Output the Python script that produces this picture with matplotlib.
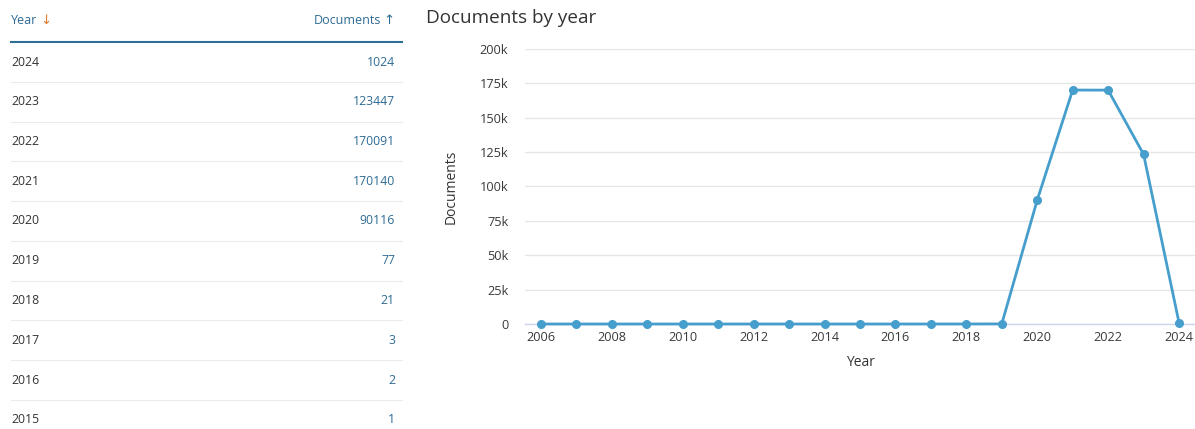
import matplotlib
matplotlib.use("Agg")
import matplotlib.pyplot as plt
from matplotlib.lines import Line2D
from matplotlib.ticker import FuncFormatter, MultipleLocator

plt.rcParams['font.family'] = ['Open Sans', 'DejaVu Sans']

years = [2006, 2007, 2008, 2009, 2010, 2011, 2012, 2013, 2014, 2015,
         2016, 2017, 2018, 2019, 2020, 2021, 2022, 2023, 2024]
documents = [0, 0, 0, 0, 0, 0, 0, 0, 0, 1,
             2, 3, 21, 77, 90116, 170140, 170091, 123447, 1024]
table_years = [2024, 2023, 2022, 2021, 2020, 2019, 2018, 2017, 2016, 2015]
x_ticks = [2006, 2008, 2010, 2012, 2014, 2016, 2018, 2020, 2022, 2024]

W, H = 1195, 429
fig = plt.figure(figsize=(W / 100, H / 100), dpi=100)

def fx(px):
    return px / W

def fy(py):
    return 1 - py / H

line_color = '#469ecd'
text_dark = '#333333'
link_blue = '#2e6b94'

# ---- Table ----
fig.text(fx(11), fy(20), "Year", color=link_blue, fontsize=9, va='center', ha='left')
fig.text(fx(40), fy(21), "↓", color='#e07a2e', fontsize=9.5, va='center', ha='left',
         family=['DejaVu Sans'])
fig.text(fx(381), fy(20), "Documents", color=link_blue, fontsize=9, va='center', ha='right')
fig.text(fx(383), fy(21), "↑", color=link_blue, fontsize=9.5, va='center', ha='left',
         family=['DejaVu Sans'])
fig.add_artist(Line2D([fx(11), fx(402)], [fy(42), fy(42)], color='#2f6f94', lw=1.5))

lookup = dict(zip(years, documents))
row0 = 62
step = 39.75
for i, yr in enumerate(table_years):
    yc = row0 + i * step
    fig.text(fx(11), fy(yc), str(yr), color=text_dark, fontsize=8.8, va='center', ha='left')
    fig.text(fx(395), fy(yc), str(lookup[yr]), color=link_blue, fontsize=8.8,
             va='center', ha='right')
    if i < len(table_years) - 1:
        ys = yc + step / 2
        fig.add_artist(Line2D([fx(11), fx(402)], [fy(ys), fy(ys)], color='#ececec', lw=0.8))

# ---- Chart ----
fig.text(fx(426), fy(18), "Documents by year", color=text_dark, fontsize=13.6,
         va='center', ha='left')

ax_l, ax_r, ax_t, ax_b = 525, 1195, 49, 324
ax = fig.add_axes([fx(ax_l), fy(ax_b), fx(ax_r - ax_l), (ax_b - ax_t) / H])
ax.set_xlim(2006 - 16 / 35.44, 2024 + 16 / 35.44)
ax.set_ylim(0, 200000)
ax.yaxis.set_major_locator(MultipleLocator(25000))
ax.yaxis.set_major_formatter(FuncFormatter(lambda v, p: '0' if v == 0 else f'{int(v/1000)}k'))
ax.set_xticks(x_ticks)
ax.grid(axis='y', color='#e6e6e6', lw=1)
ax.set_axisbelow(True)
for s in ['top', 'right', 'left']:
    ax.spines[s].set_visible(False)
ax.spines['bottom'].set_color('#ccd6eb')
ax.spines['bottom'].set_linewidth(1)
ax.tick_params(axis='both', length=0, labelsize=9.2, labelcolor='#3a3a3a')
ax.tick_params(axis='y', pad=12)
ax.tick_params(axis='x', pad=5)

ax.plot(years, documents, color=line_color, lw=2, marker='o', markersize=5.5,
        clip_on=False, zorder=3)

ax.set_xlabel("Year", fontsize=10, color=text_dark, labelpad=8)
ax.set_ylabel("Documents", fontsize=10, color=text_dark, labelpad=15)

fig.savefig("out.png", dpi=100)
